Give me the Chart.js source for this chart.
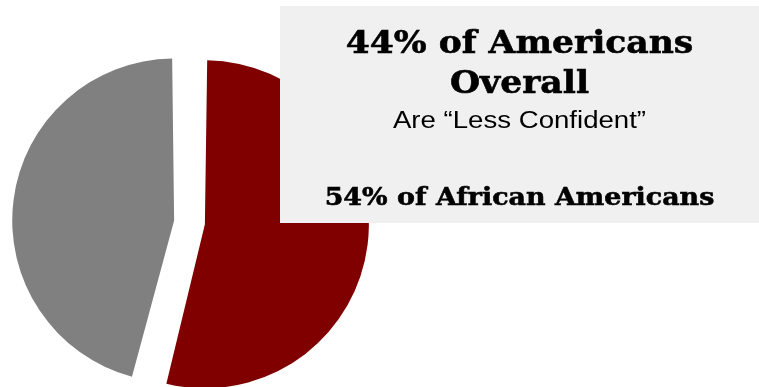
<!DOCTYPE html>
<html>
<head>
<meta charset="utf-8">
<script src="https://cdn.jsdelivr.net/npm/chart.js@4.4.1/dist/chart.umd.min.js"></script>
<style>
  html, body { margin: 0; padding: 0; background: #ffffff; }
  #wrap { position: relative; width: 759px; height: 387px; overflow: hidden; }
  #c { position: absolute; left: 0; top: 0; }
  #box { position: absolute; left: 280px; top: 6px; width: 479px; height: 217px; background: #f0f0f0; }
  .ln { position: absolute; left: 0; width: 479px; text-align: center; white-space: nowrap; color: #000; transform-origin: 50% 50%; }
  .serif { font-family: "DejaVu Serif", Georgia, serif; font-weight: bold; -webkit-text-stroke: 0.6px #000; }
  .sans { font-family: "Liberation Sans", Arial, sans-serif; }
</style>
</head>
<body>
<div id="wrap">
  <canvas id="c" width="759" height="387"></canvas>
  <div id="box">
    <div class="ln serif" style="top:16px;font-size:32px;line-height:40px;transform:scaleX(1.08);">44% of Americans</div>
    <div class="ln serif" style="top:56px;font-size:32px;line-height:40px;transform:scaleX(1.08);">Overall</div>
    <div class="ln sans" style="top:99px;font-size:23px;line-height:30px;transform:scaleX(1.2);">Are “Less Confident”</div>
    <div class="ln serif" style="top:175px;font-size:25px;line-height:32px;transform:scaleX(1.076);">54% of African Americans</div>
  </div>
</div>
<script>
const categories = ["Less Confident", "Not Less Confident"];
const values = [54, 46];
const colors = ["#800000", "#808080"];

new Chart(document.getElementById("c"), {
  type: "pie",
  data: {
    labels: categories,
    datasets: [{
      data: values,
      backgroundColor: colors,
      borderWidth: 0,
      offset: [58, 66],
      hoverOffset: 0,
      clip: false
    }]
  },
  options: {
    responsive: false,
    animation: false,
    radius: 149.5,
    layout: { padding: { left: 0, right: 378, top: 58, bottom: 0 } },
    plugins: { legend: { display: false }, tooltip: { enabled: false } }
  }
});
</script>
</body>
</html>
